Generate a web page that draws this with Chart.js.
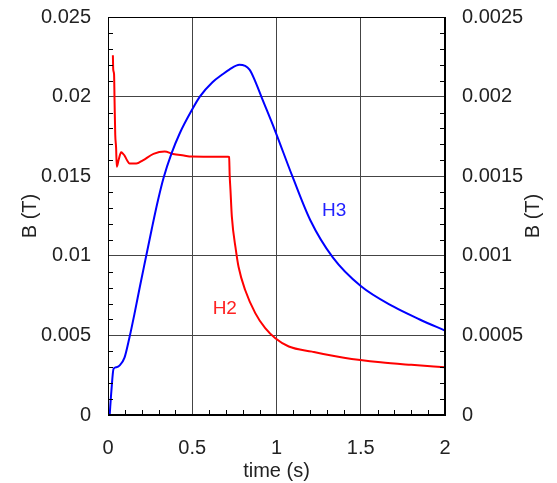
<!DOCTYPE html>
<html>
<head>
<meta charset="utf-8">
<script src="https://cdn.jsdelivr.net/npm/chart.js@4"></script>
<style>
  html, body { margin: 0; padding: 0; background: #fff; }
  #myChart { display: block; }
</style>
</head>
<body>
<canvas id="myChart" width="557" height="483"></canvas>
<script>
// H3 curve (time in s, B in T)
const h3Time = [0.01, 0.02, 0.033, 0.05, 0.068, 0.098, 0.128, 0.158, 0.19, 0.221, 0.26, 0.297, 0.33,
  0.376, 0.426, 0.5, 0.545, 0.62, 0.68, 0.72, 0.78, 0.84, 0.88, 0.91, 0.99, 1.094, 1.2, 1.334,
  1.5, 1.695, 1.85, 2.0];
const h3B = [0, 0.0015, 0.0029, 0.003, 0.0031, 0.0036, 0.0049, 0.0064, 0.0081, 0.0097, 0.0117, 0.0135, 0.0149,
  0.0164, 0.0177, 0.0192, 0.02, 0.0209, 0.0214, 0.0217, 0.022, 0.0217, 0.0208, 0.02, 0.0179, 0.015, 0.01225, 0.0099,
  0.0081, 0.0068, 0.006, 0.0053];

// H2 curve
const h2Time = [0.029, 0.031, 0.036, 0.039, 0.043, 0.048, 0.052, 0.0625, 0.078, 0.09, 0.098, 0.113, 0.128,
  0.168, 0.207, 0.27, 0.336, 0.386, 0.45, 0.495, 0.6, 0.713, 0.719, 0.722, 0.727, 0.735, 0.759, 0.775,
  0.814, 0.874, 0.933, 0.993, 1.073, 1.211, 1.4, 1.618, 1.8, 2.0];
const h2B = [0.0226, 0.0217, 0.0214, 0.0197, 0.0176, 0.0168, 0.0156, 0.016, 0.0165, 0.0164, 0.0163, 0.016, 0.0158,
  0.0158, 0.016, 0.0164, 0.01655, 0.0164, 0.0163, 0.01623, 0.01622, 0.01622, 0.0162, 0.0151, 0.0141, 0.01246, 0.01036, 0.0093,
  0.00785, 0.0064, 0.00545, 0.00482, 0.0043, 0.00398, 0.0036, 0.00331, 0.00315, 0.003];

// tick labels
const xTicks = ['0', '0.5', '1', '1.5', '2'];
const yLeftTicks = ['0', '0.005', '0.01', '0.015', '0.02', '0.025'];
const yRightTicks = ['0', '0.0005', '0.001', '0.0015', '0.002', '0.0025'];

// curve labels: [text, time, B, colour]
const curveLabels = [
  ['H3', 1.342, 0.0128, '#2222ff'],
  ['H2', 0.693, 0.00666, '#ff2222']
];

const FONT = 'Liberation Sans, Arial, sans-serif';

const toPts = (xs, ys) => xs.map((x, i) => ({ x: x, y: ys[i] }));

// fixed axis box sizes, no extra padding for overflowing labels
const fitSize = (w, h) => s => {
  if (w) s.width = w;
  if (h) s.height = h;
  s.paddingTop = 0; s.paddingBottom = 0; s.paddingLeft = 0; s.paddingRight = 0;
};

const framePlugin = {
  id: 'frame',
  afterDatasetsDraw(chart) {
    const ctx = chart.ctx;
    const a = chart.chartArea;
    const xs = chart.scales.x, yl = chart.scales.y, yr = chart.scales.y2;
    ctx.save();
    ctx.strokeStyle = '#000';
    ctx.lineWidth = 1;
    ctx.strokeRect(Math.round(a.left) + 0.5, Math.round(a.top) + 0.5,
      Math.round(a.right - a.left) - 1, Math.round(a.bottom - a.top) - 1);
    // minor ticks, pointing inward
    ctx.beginPath();
    for (let i = 1; i < 20; i++) {
      if (i % 5 === 0) continue;
      const px = Math.round(xs.getPixelForValue(i * 0.1)) + 0.5;
      ctx.moveTo(px, a.bottom);
      ctx.lineTo(px, a.bottom - 5);
    }
    for (let i = 1; i < 25; i++) {
      if (i % 5 === 0) continue;
      const py = Math.round(yl.getPixelForValue(i * 0.001)) + 0.5;
      ctx.moveTo(a.left, py);
      ctx.lineTo(a.left + 5, py);
      const pr = Math.round(yr.getPixelForValue(i * 0.0001)) + 0.5;
      ctx.moveTo(a.right, pr);
      ctx.lineTo(a.right - 5, pr);
    }
    ctx.stroke();
    // curve labels
    ctx.font = '19px ' + FONT;
    ctx.textAlign = 'center';
    ctx.textBaseline = 'middle';
    curveLabels.forEach(l => {
      ctx.fillStyle = l[3];
      ctx.fillText(l[0], xs.getPixelForValue(l[1]), yl.getPixelForValue(l[2]));
    });
    // right axis title, reading bottom to top
    ctx.fillStyle = '#222';
    ctx.font = '20px ' + FONT;
    ctx.translate(533, (a.top + a.bottom) / 2);
    ctx.rotate(-Math.PI / 2);
    ctx.fillText('B (T)', 0, 0);
    ctx.restore();
  }
};

const myChart = new Chart('myChart', {
  type: 'line',
  data: {
    datasets: [{
      label: 'H3',
      data: toPts(h3Time, h3B),
      borderColor: '#0000ff',
      borderWidth: 2,
      pointRadius: 0,
      cubicInterpolationMode: 'monotone',
      fill: false,
      yAxisID: 'y'
    }, {
      label: 'H2',
      data: toPts(h2Time, h2B),
      borderColor: '#ff0000',
      borderWidth: 2,
      pointRadius: 0,
      cubicInterpolationMode: 'monotone',
      fill: false,
      yAxisID: 'y'
    }]
  },
  options: {
    responsive: false,
    animation: false,
    layout: { padding: { top: 17, right: 0, left: 0, bottom: 0 } },
    plugins: { legend: { display: false }, tooltip: { enabled: false } },
    scales: {
      x: {
        type: 'linear',
        min: 0, max: 2,
        afterFit: fitSize(0, 68),
        ticks: {
          stepSize: 0.5, padding: 21, color: '#222',
          font: { family: FONT, size: 20 },
          callback: (v, i) => xTicks[i]
        },
        grid: { color: '#444', drawTicks: false },
        border: { color: '#000' },
        title: { display: true, text: 'time (s)', color: '#222', font: { family: FONT, size: 20 }, padding: { top: 0, bottom: 0 } }
      },
      y: {
        position: 'left',
        min: 0, max: 0.025,
        afterFit: fitSize(108, 0),
        ticks: {
          stepSize: 0.005, padding: 17, color: '#222',
          font: { family: FONT, size: 20 },
          callback: (v, i) => yLeftTicks[i]
        },
        grid: { color: '#444', drawTicks: false },
        border: { color: '#000' },
        title: { display: true, text: 'B (T)', color: '#222', font: { family: FONT, size: 20 }, padding: { top: 18, bottom: 0 } }
      },
      y2: {
        position: 'right',
        min: 0, max: 0.0025,
        afterFit: fitSize(112, 0),
        ticks: {
          stepSize: 0.0005, padding: 17, color: '#222',
          font: { family: FONT, size: 20 },
          callback: (v, i) => yRightTicks[i]
        },
        grid: { drawOnChartArea: false, drawTicks: false },
        border: { color: '#000' }
      }
    }
  },
  plugins: [framePlugin]
});
</script>
</body>
</html>
